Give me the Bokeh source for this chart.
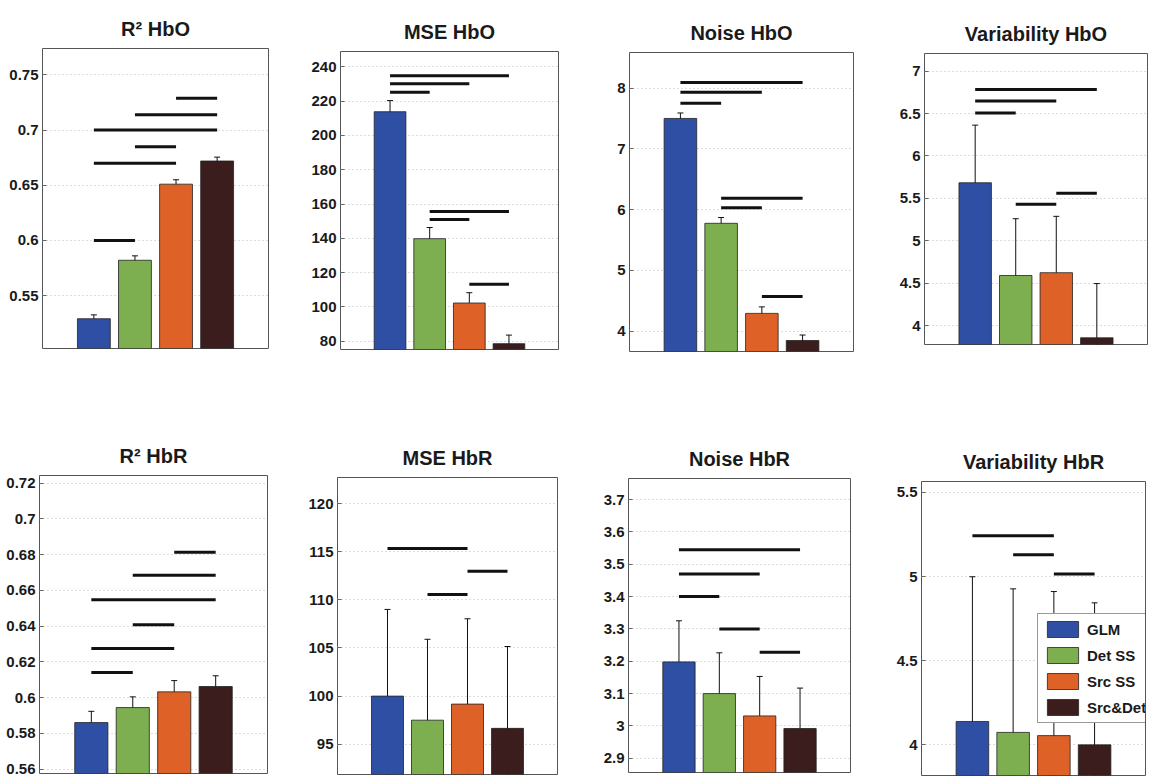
from bokeh.plotting import figure
from bokeh.layouts import row, column
from bokeh.models import (ColumnDataSource, Whisker, TeeHead, FixedTicker, Range1d,
                          NumeralTickFormatter, Legend, LegendItem)
from bokeh.embed import file_html
from bokeh.resources import INLINE

# Methods compared in every panel
methods = ["GLM", "Det SS", "Src SS", "Src&Det"]
method_colors = ["#2f4fa5", "#7dae50", "#de6228", "#3b1d1d"]

# ---- HbO ----
r2_hbo_mean = [0.529, 0.582, 0.651, 0.672]
r2_hbo_err = [0.0035, 0.004, 0.004, 0.0035]
r2_hbo_sig = [(1, 2, 0.600), (1, 3, 0.670), (2, 3, 0.685), (1, 4, 0.700), (2, 4, 0.714), (3, 4, 0.729)]
r2_hbo_ticks = [0.55, 0.6, 0.65, 0.7, 0.75]

mse_hbo_mean = [213.8, 139.8, 102.3, 78.6]
mse_hbo_err = [6.5, 6.5, 6.0, 5.0]
mse_hbo_sig = [(1, 2, 225.2), (1, 3, 230.1), (1, 4, 234.8), (2, 3, 151.0), (2, 4, 155.7), (3, 4, 113.2)]
mse_hbo_ticks = [80, 100, 120, 140, 160, 180, 200, 220, 240]

noise_hbo_mean = [7.50, 5.775, 4.293, 3.847]
noise_hbo_err = [0.09, 0.095, 0.107, 0.09]
noise_hbo_sig = [(1, 2, 7.75), (1, 3, 7.93), (1, 4, 8.09), (2, 3, 6.03), (2, 4, 6.186), (3, 4, 4.57)]
noise_hbo_ticks = [4, 5, 6, 7, 8]

var_hbo_mean = [5.684, 4.59, 4.623, 3.855]
var_hbo_err = [0.68, 0.67, 0.665, 0.64]
var_hbo_sig = [(1, 2, 6.507), (1, 3, 6.65), (1, 4, 6.784), (2, 3, 5.43), (3, 4, 5.559)]
var_hbo_ticks = [4, 4.5, 5, 5.5, 6, 6.5, 7]

# ---- HbR ----
r2_hbr_mean = [0.586, 0.5944, 0.6032, 0.6062]
r2_hbr_err = [0.0063, 0.006, 0.0063, 0.006]
r2_hbr_sig = [(1, 2, 0.614), (1, 3, 0.6275), (2, 3, 0.6407), (1, 4, 0.6547), (2, 4, 0.6684), (3, 4, 0.6813)]
r2_hbr_ticks = [0.56, 0.58, 0.6, 0.62, 0.64, 0.66, 0.68, 0.7, 0.72]

mse_hbr_mean = [100.0, 97.5, 99.17, 96.65]
mse_hbr_err = [9.0, 8.4, 8.86, 8.5]
mse_hbr_sig = [(2, 3, 110.56), (3, 4, 112.96), (1, 3, 115.34)]
mse_hbr_ticks = [95, 100, 105, 110, 115, 120]

noise_hbr_mean = [3.198, 3.10, 3.031, 2.992]
noise_hbr_err = [0.127, 0.126, 0.122, 0.125]
noise_hbr_sig = [(1, 2, 3.40), (1, 3, 3.47), (1, 4, 3.545), (2, 3, 3.30), (3, 4, 3.228)]
noise_hbr_ticks = [2.9, 3, 3.1, 3.2, 3.3, 3.4, 3.5, 3.6, 3.7]

var_hbr_mean = [4.139, 4.074, 4.055, 4.0]
var_hbr_err = [0.86, 0.853, 0.856, 0.844]
var_hbr_sig = [(1, 3, 5.243), (2, 3, 5.13), (3, 4, 5.016)]
var_hbr_ticks = [4, 4.5, 5, 5.5]

FONT = "Liberation Sans"


def panel(title, mean, err, sig, ticks, ylim, width, height, borders, legend=None):
    left, right, top, bottom = borders
    p = figure(width=width, height=height, output_backend="svg", toolbar_location=None,
               x_range=Range1d(-0.25, 5.25), y_range=Range1d(*ylim),
               min_border_left=left, min_border_right=right,
               min_border_top=top, min_border_bottom=bottom, title=title,
               frame_align=False)
    p.title.align = "center"
    p.title.text_font = FONT
    p.title.text_font_size = "20px"
    p.title.text_font_style = "bold"
    p.title.text_color = "#1a1a1a"
    p.title.standoff = 18

    p.outline_line_color = "#555555"
    p.outline_line_width = 1
    p.background_fill_color = "white"
    p.border_fill_color = "white"

    p.xaxis.visible = False
    p.xgrid.visible = False
    p.yaxis.ticker = FixedTicker(ticks=ticks)
    p.yaxis.formatter = NumeralTickFormatter(format="0.[00]")
    p.yaxis.axis_line_color = None
    p.yaxis.major_tick_in = 4
    p.yaxis.major_tick_out = 0
    p.yaxis.major_tick_line_color = "#666666"
    p.yaxis.minor_tick_line_color = None
    p.yaxis.major_label_standoff = 4
    p.yaxis.major_label_text_font = FONT
    p.yaxis.major_label_text_font_size = "15px"
    p.yaxis.major_label_text_font_style = "bold"
    p.yaxis.major_label_text_color = "#1a1a1a"
    p.ygrid.grid_line_color = "#b8b8b8"
    p.ygrid.grid_line_dash = "1 3"
    p.ygrid.grid_line_width = 1

    xs = [1, 2, 3, 4]
    src = ColumnDataSource(dict(
        x=xs, top=mean, color=method_colors, name=methods,
        upper=[m + e for m, e in zip(mean, err)],
        lower=[m - e for m, e in zip(mean, err)],
    ))
    bars = p.vbar(x="x", top="top", bottom=0, width=0.8, source=src,
                  fill_color="color", line_color="#222222", line_width=0.8)

    w = Whisker(source=src, base="x", upper="upper", lower="lower",
                line_color="#111111", line_width=1,
                upper_head=TeeHead(size=6, line_color="#111111", line_width=1),
                lower_head=TeeHead(size=6, line_color="#111111", line_width=1))
    p.add_layout(w)

    sig_src = ColumnDataSource(dict(
        x0=[s[0] for s in sig], x1=[s[1] for s in sig], y=[s[2] for s in sig]))
    p.segment(x0="x0", y0="y", x1="x1", y1="y", source=sig_src,
              line_color="#111111", line_width=3)

    if legend is not None:
        items = [LegendItem(label=m, renderers=[bars], index=i) for i, m in enumerate(methods)]
        leg = Legend(items=items, location=legend)
        leg.label_text_font = FONT
        leg.label_text_font_size = "15px"
        leg.label_text_font_style = "bold"
        leg.label_text_color = "#1a1a1a"
        leg.glyph_width = 39
        leg.glyph_height = 20
        leg.label_height = 20
        leg.spacing = 6
        leg.padding = 5
        leg.margin = 0
        leg.label_standoff = 5
        leg.border_line_color = "#333333"
        leg.border_line_width = 1
        leg.background_fill_color = "white"
        leg.background_fill_alpha = 1.0
        p.add_layout(leg)
    return p


top_h = 420
bot_h = 359

p1 = panel("R² HbO", r2_hbo_mean, r2_hbo_err, r2_hbo_sig, r2_hbo_ticks,
           (0.502, 0.774), 297, top_h, (42, 29, 48, 72))
p2 = panel("MSE HbO", mse_hbo_mean, mse_hbo_err, mse_hbo_sig, mse_hbo_ticks,
           (75.2, 248.9), 290, top_h, (43, 29, 51, 71))
p3 = panel("Noise HbO", noise_hbo_mean, noise_hbo_err, noise_hbo_sig, noise_hbo_ticks,
           (3.666, 8.585), 293, top_h, (42, 27, 52, 69))
p4 = panel("Variability HbO", var_hbo_mean, var_hbo_err, var_hbo_sig, var_hbo_ticks,
           (3.776, 7.209), 275, top_h, (44, 8, 53, 76))

p5 = panel("R² HbR", r2_hbr_mean, r2_hbr_err, r2_hbr_sig, r2_hbr_ticks,
           (0.5575, 0.7243), 297, bot_h, (39, 30, 55, 6))
p6 = panel("MSE HbR", mse_hbr_mean, mse_hbr_err, mse_hbr_sig, mse_hbr_ticks,
           (91.86, 122.7), 290, bot_h, (40, 30, 57, 5))
p7 = panel("Noise HbR", noise_hbr_mean, noise_hbr_err, noise_hbr_sig, noise_hbr_ticks,
           (2.856, 3.765), 293, bot_h, (41, 30, 58, 7))
p8 = panel("Variability HbR", var_hbr_mean, var_hbr_err, var_hbr_sig, var_hbr_ticks,
           (3.818, 5.565), 275, bot_h, (41, 10, 61, 4), legend=(116, 52))

layout = column(row(p1, p2, p3, p4), row(p5, p6, p7, p8))

with open("out.html", "w") as f:
    f.write(file_html(layout, INLINE))
